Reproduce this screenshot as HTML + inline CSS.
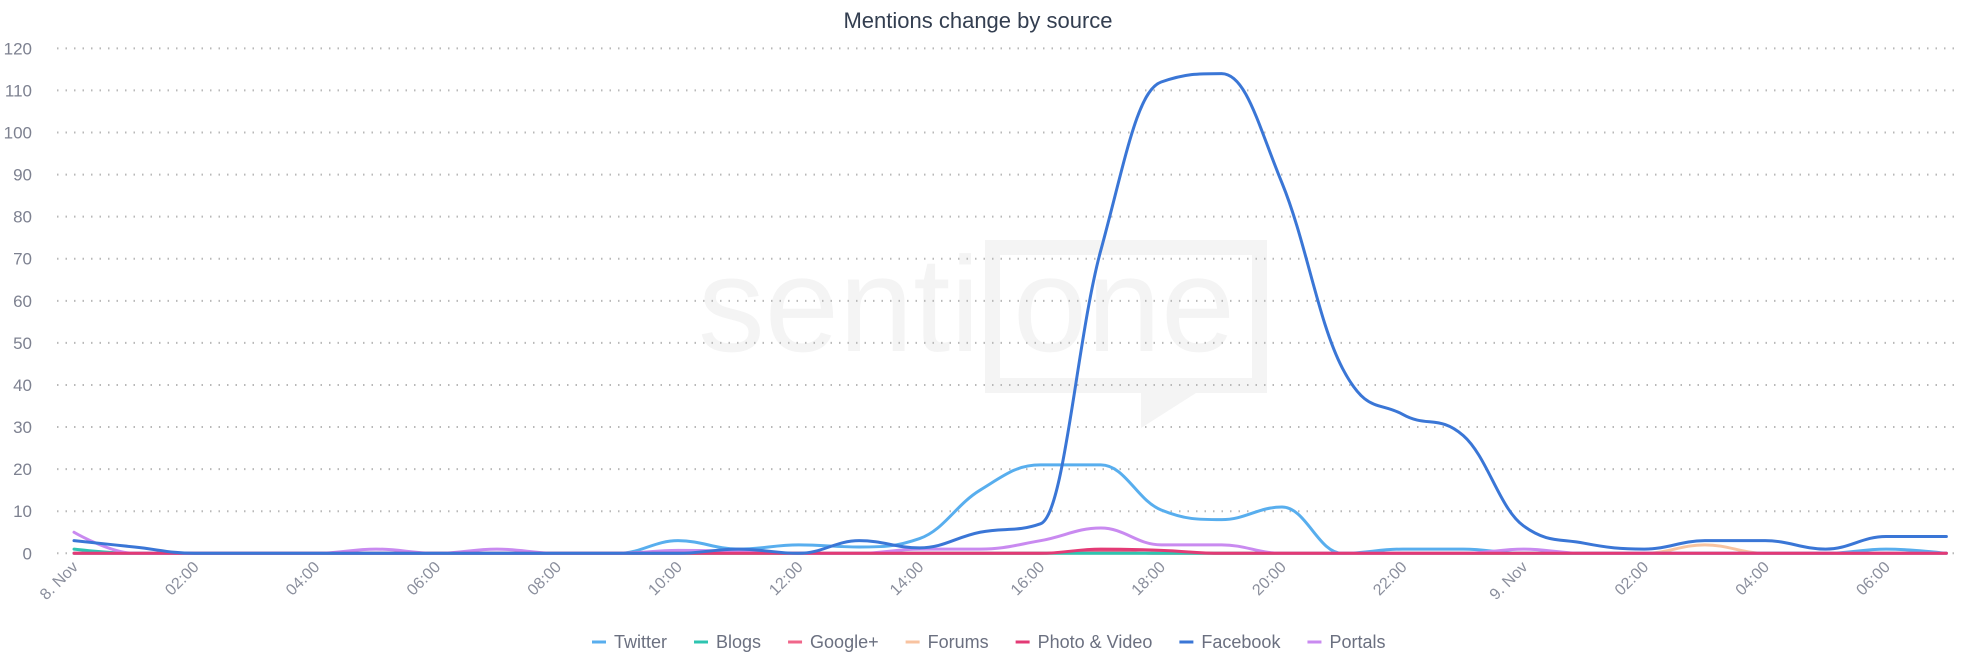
<!DOCTYPE html>
<html><head><meta charset="utf-8"><style>
html,body{margin:0;padding:0;background:#fff;width:1962px;height:668px;overflow:hidden}
svg{display:block;font-family:"Liberation Sans",sans-serif}
</style></head><body>
<svg id="c" width="1962" height="668" xmlns="http://www.w3.org/2000/svg">
<g>
<text x="698" y="351" font-size="135" fill="#f4f4f4" textLength="282" lengthAdjust="spacingAndGlyphs">senti</text>
<rect x="992.5" y="247.5" width="267" height="138" fill="none" stroke="#f4f4f4" stroke-width="15"/>
<path d="M1141 378 V428 L1196 393 Z" fill="#f4f4f4"/>
<text x="1013" y="351" font-size="135" fill="#f4f4f4" textLength="222" lengthAdjust="spacingAndGlyphs">one</text>
</g>
<text x="978" y="28" text-anchor="middle" font-size="22" fill="#333e50">Mentions change by source</text>
<g id="grid"></g>
<g id="lines"></g>
<g id="legend" font-size="18" fill="#6b7080"></g>
</svg>
<script>
var NS="http://www.w3.org/2000/svg";
function el(t,a,p,txt){var e=document.createElementNS(NS,t);for(var k in a)e.setAttribute(k,a[k]);if(txt)e.textContent=txt;p.appendChild(e);return e;}
var X=function(t){return 74+60.4*t},Y=function(v){return 553.3-4.208*v};
var g=document.getElementById('grid');
for(var i=0;i<=12;i++){var y=Y(i*10);
el('line',{x1:57,x2:1955,y1:y,y2:y,stroke:'#b8b8b8','stroke-width':2,'stroke-dasharray':'1.5,7'},g);
el('text',{x:32,y:y+6,'text-anchor':'end','font-size':17,fill:'#7d8190'},g,String(i*10));}
var labs={0:'8. Nov',24:'9. Nov'};
for(var t=0;t<=30;t+=2){var s=labs[t]||(('0'+(t%24)).slice(-2)+':00');var x=X(t)+5;
el('text',{x:x,y:568,'text-anchor':'end','font-size':16,fill:'#8a8e9c',transform:'rotate(-45 '+x+' 568)'},g,s);}
function arr(m){var a=[];for(var i=0;i<=31;i++)a.push(m[i]||0);return a;}
var S=[
['Forums','#f8c3a0',arr({27:2})],
['Google+','#f0668a',arr({17:0.5})],
['Blogs','#2ec4b0',arr({0:1})],
['Twitter','#58aeee',arr({10:3,11:1,12:2,13:1.5,14:3.5,15:15,16:21,17:21,18:10.3,19:8,20:11,22:1,23:1,30:1})],
['Portals','#c98af0',arr({0:5,5:1,7:1,10:0.7,11:0.5,14:1,15:1,16:3,17:6,18:2,19:2,24:1})],
['Photo & Video','#e33a75',arr({17:1,18:0.7})],
['Facebook','#3a76d6',arr({0:3,1:1.5,11:1,13:3,14:1.3,15:5,16:7,17:72,18:112,19:114,20:88,21:44,22:33,23:28,24:6.5,25:2.4,26:1,27:3,28:3,29:1,30:4,31:4})]
];
function conts(p,i){var sm=1.5,dn=2.5,c=p[i];
if(i==0||i==p.length-1)return [c,c];
var l=p[i-1],n=p[i+1];
var lx=(sm*c[0]+l[0])/dn,ly=(sm*c[1]+l[1])/dn,rx=(sm*c[0]+n[0])/dn,ry=(sm*c[1]+n[1])/dn;
var cor=((ry-ly)*(rx-c[0]))/(rx-lx)+c[1]-ry;ly+=cor;ry+=cor;
if(ly>l[1]&&ly>c[1]){ly=Math.max(l[1],c[1]);ry=2*c[1]-ly;}
else if(ly<l[1]&&ly<c[1]){ly=Math.min(l[1],c[1]);ry=2*c[1]-ly;}
if(ry>n[1]&&ry>c[1]){ry=Math.max(n[1],c[1]);ly=2*c[1]-ry;}
else if(ry<n[1]&&ry<c[1]){ry=Math.min(n[1],c[1]);ly=2*c[1]-ry;}
return [[lx,ly],[rx,ry]];}
var L=document.getElementById('lines');
S.forEach(function(s){var p=s[2].map(function(v,i){return [X(i),Y(v)]});
var C=p.map(function(_,i){return conts(p,i)});
var d='M'+p[0][0]+' '+p[0][1];
for(var i=1;i<p.length;i++){var a=C[i-1][1],b=C[i][0];
d+=' C'+a[0]+' '+a[1]+' '+b[0]+' '+b[1]+' '+p[i][0]+' '+p[i][1];}
el('path',{d:d,fill:'none',stroke:s[1],'stroke-width':3,'stroke-linejoin':'round','stroke-linecap':'round'},L);});
var order=['Twitter','Blogs','Google+','Forums','Photo & Video','Facebook','Portals'];
var col={};S.forEach(function(s){col[s[0]]=s[1]});
var lg=document.getElementById('legend'),x=592;
order.forEach(function(n){el('line',{x1:x,x2:x+14,y1:642,y2:642,stroke:col[n],'stroke-width':3},lg);
var t=el('text',{x:x+22,y:648},lg,n);x+=22+t.getComputedTextLength()+27;});
</script>
</body></html>
